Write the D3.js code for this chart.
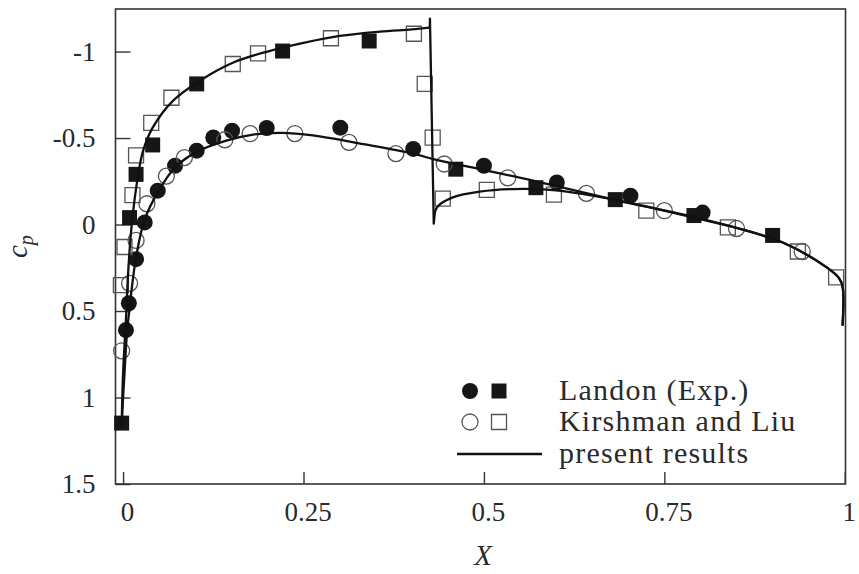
<!DOCTYPE html>
<html>
<head>
<meta charset="utf-8">
<script src="https://cdn.jsdelivr.net/npm/d3@7"></script>
<style>
  body { margin: 0; background: #fff; }
  svg text { fill: #2a2a2a; }
</style>
</head>
<body>
<svg width="859" height="574"></svg>
<script>
// Landon (Exp.) - filled markers
const landonCircleX = [0.004, 0.008, 0.018, 0.030, 0.048, 0.072, 0.102, 0.125, 0.151, 0.199, 0.301, 0.402, 0.500, 0.601, 0.703, 0.803];
const landonCircleY = [0.61, 0.455, 0.20, -0.012, -0.196, -0.34, -0.427, -0.503, -0.542, -0.558, -0.56, -0.437, -0.34, -0.243, -0.167, -0.069];
const landonSquareX = [-0.002, 0.009, 0.018, 0.041, 0.102, 0.221, 0.341, 0.461, 0.572, 0.682, 0.791, 0.900];
const landonSquareY = [1.148, -0.04, -0.29, -0.46, -0.813, -1.003, -1.061, -0.32, -0.213, -0.144, -0.052, 0.063];

// Kirshman and Liu - open markers
const kirshCircleX = [-0.002, 0.009, 0.018, 0.033, 0.060, 0.085, 0.141, 0.176, 0.238, 0.313, 0.378, 0.445, 0.533, 0.642, 0.750, 0.850, 0.941];
const kirshCircleY = [0.73, 0.34, 0.092, -0.12, -0.28, -0.387, -0.49, -0.525, -0.526, -0.475, -0.41, -0.35, -0.27, -0.18, -0.08, 0.023, 0.156];
const kirshSquareX = [-0.003, 0.002, 0.013, 0.018, 0.039, 0.067, 0.152, 0.187, 0.288, 0.403, 0.418, 0.429, 0.443, 0.504, 0.597, 0.725, 0.838, 0.935, 0.988];
const kirshSquareY = [0.35, 0.13, -0.17, -0.40, -0.588, -0.733, -0.928, -0.99, -1.077, -1.103, -0.813, -0.502, -0.15, -0.20, -0.173, -0.08, 0.017, 0.156, 0.306];

// present results - solid curves
const presentCircleX = [-0.002, 0.0, 0.002, 0.005, 0.009, 0.018, 0.030, 0.050, 0.072, 0.102, 0.143, 0.180, 0.220, 0.263, 0.333, 0.402, 0.430, 0.494, 0.568, 0.684, 0.799, 0.914, 0.975, 0.992, 0.997, 0.997];
const presentCircleY = [1.17, 1.0, 0.86, 0.65, 0.48, 0.19, -0.03, -0.20, -0.33, -0.42, -0.485, -0.52, -0.53, -0.515, -0.465, -0.41, -0.378, -0.32, -0.254, -0.14, -0.035, 0.104, 0.248, 0.31, 0.36, 0.58];
const presentSquarePreX = [-0.002, 0.0, 0.004, 0.007, 0.012, 0.021, 0.028, 0.041, 0.069, 0.106, 0.152, 0.200, 0.250, 0.300, 0.356, 0.400, 0.425];
const presentSquarePreY = [1.17, 0.86, 0.55, 0.28, 0.0, -0.29, -0.43, -0.56, -0.715, -0.83, -0.935, -1.0, -1.05, -1.09, -1.115, -1.128, -1.138];
const shockX = [0.425, 0.4252, 0.4305, 0.432];
const shockY = [-1.138, -1.19, -0.005, -0.07];
const presentSquarePostX = [0.432, 0.436, 0.457, 0.494, 0.540, 0.600, 0.660, 0.720, 0.785, 0.850, 0.914, 0.975, 0.992, 0.997, 0.997];
const presentSquarePostY = [-0.07, -0.105, -0.157, -0.19, -0.205, -0.198, -0.16, -0.11, -0.045, 0.02, 0.104, 0.248, 0.31, 0.36, 0.58];

const xTicks = [0, 0.25, 0.5, 0.75, 1];
const yTicks = [-1, -0.5, 0, 0.5, 1, 1.5];
const legendLabels = ['Landon (Exp.)', 'Kirshman and Liu', 'present results'];

const zip = (xs, ys) => xs.map((v, i) => [v, ys[i]]);
const serif = '"Liberation Serif", "DejaVu Serif", serif';

const svg = d3.select('svg');
const width = +svg.attr('width');
const height = +svg.attr('height');
const margin = {top: 9, right: 13.5, bottom: 90, left: 115.5};
const innerWidth = width - margin.left - margin.right;
const innerHeight = height - margin.top - margin.bottom;

const xScale = d3.scaleLinear().domain([-0.0105, 1.001]).range([0, innerWidth]);
const yScale = d3.scaleLinear().domain([-1.246, 1.5]).range([0, innerHeight]);

const g = svg.append('g').attr('transform', `translate(${margin.left},${margin.top})`);

// axes, ticks pointing inward
const xAxis = g.append('g')
  .attr('transform', `translate(0,${innerHeight})`)
  .call(d3.axisBottom(xScale).tickValues(xTicks).tickSizeInner(-12).tickSizeOuter(0).tickPadding(18).tickFormat(d => String(d)));
xAxis.attr('font-family', serif);
xAxis.select('.domain').remove();
xAxis.selectAll('.tick line').attr('stroke', '#333').attr('stroke-width', 1.4);
xAxis.selectAll('text').attr('font-size', 27).attr('dx', 4).attr('fill', '#2a2a2a');

const yAxis = g.append('g')
  .call(d3.axisLeft(yScale).tickValues(yTicks).tickSizeInner(-15).tickSizeOuter(0).tickPadding(20).tickFormat(d => String(d)));
yAxis.attr('font-family', serif);
yAxis.select('.domain').remove();
yAxis.selectAll('.tick line').attr('stroke', '#333').attr('stroke-width', 1.4);
yAxis.selectAll('text').attr('font-size', 27).attr('fill', '#2a2a2a');

// frame
g.append('rect')
  .attr('x', 0).attr('y', 0)
  .attr('width', innerWidth).attr('height', innerHeight)
  .attr('fill', 'none').attr('stroke', '#333').attr('stroke-width', 1.6);

const circleSym = d3.symbol().type(d3.symbolCircle).size(Math.PI * 8 * 8);
const squareSym = d3.symbol().type(d3.symbolSquare).size(15 * 15);

// filled markers
g.append('g').selectAll('path').data(zip(landonCircleX, landonCircleY))
  .enter().append('path')
    .attr('d', circleSym)
    .attr('transform', d => `translate(${xScale(d[0])},${yScale(d[1])})`)
    .attr('fill', '#161616');
g.append('g').selectAll('path').data(zip(landonSquareX, landonSquareY))
  .enter().append('path')
    .attr('d', squareSym)
    .attr('transform', d => `translate(${xScale(d[0])},${yScale(d[1])})`)
    .attr('fill', '#161616');

// open markers
g.append('g').selectAll('path').data(zip(kirshCircleX, kirshCircleY))
  .enter().append('path')
    .attr('d', circleSym)
    .attr('transform', d => `translate(${xScale(d[0])},${yScale(d[1])})`)
    .attr('fill', 'none').attr('stroke', '#555').attr('stroke-width', 1.3);
g.append('g').selectAll('path').data(zip(kirshSquareX, kirshSquareY))
  .enter().append('path')
    .attr('d', squareSym)
    .attr('transform', d => `translate(${xScale(d[0])},${yScale(d[1])})`)
    .attr('fill', 'none').attr('stroke', '#555').attr('stroke-width', 1.3);

// present results
const smooth = d3.line().x(d => xScale(d[0])).y(d => yScale(d[1])).curve(d3.curveCatmullRom.alpha(0.5));
const straight = d3.line().x(d => xScale(d[0])).y(d => yScale(d[1]));
const lineStyle = sel => sel.attr('fill', 'none').attr('stroke', '#111').attr('stroke-width', 2.3)
  .attr('stroke-linejoin', 'round').attr('stroke-linecap', 'round');

g.append('path').datum(zip(presentCircleX, presentCircleY)).attr('d', smooth).call(lineStyle);
g.append('path').datum(zip(presentSquarePreX, presentSquarePreY)).attr('d', smooth).call(lineStyle);
g.append('path').datum(zip(shockX, shockY)).attr('d', straight).call(lineStyle);
g.append('path').datum(zip(presentSquarePostX, presentSquarePostY)).attr('d', smooth).call(lineStyle);

// axis titles
svg.append('text')
  .attr('x', 483).attr('y', 565)
  .attr('text-anchor', 'middle')
  .attr('font-family', serif)
  .attr('font-size', 29).attr('font-style', 'italic')
  .text('X');

const cp = svg.append('text')
  .attr('transform', 'translate(27,258) rotate(-90)')
  .attr('font-family', serif)
  .attr('font-size', 29).attr('font-style', 'italic');
cp.append('tspan').text('c');
cp.append('tspan').attr('font-size', 20).attr('dy', 6).text('p');

// legend
const legend = svg.append('g');
const rowY = [391, 422, 454];
legend.append('path').attr('d', circleSym).attr('transform', `translate(470,${rowY[0]})`).attr('fill', '#161616');
legend.append('path').attr('d', squareSym).attr('transform', `translate(499,${rowY[0]})`).attr('fill', '#161616');
legend.append('path').attr('d', circleSym).attr('transform', `translate(470,${rowY[1]})`)
  .attr('fill', 'none').attr('stroke', '#555').attr('stroke-width', 1.3);
legend.append('path').attr('d', squareSym).attr('transform', `translate(499,${rowY[1]})`)
  .attr('fill', 'none').attr('stroke', '#555').attr('stroke-width', 1.3);
legend.append('line').attr('x1', 457).attr('x2', 542).attr('y1', rowY[2]).attr('y2', rowY[2])
  .attr('stroke', '#111').attr('stroke-width', 2.3);
legend.selectAll('text.lab').data(legendLabels)
  .enter().append('text')
    .attr('class', 'lab')
    .attr('x', 559)
    .attr('y', (d, i) => rowY[i] + 9)
    .attr('font-family', serif)
    .attr('font-size', 30)
    .attr('letter-spacing', 1.2)
    .text(d => d);
</script>
</body>
</html>
